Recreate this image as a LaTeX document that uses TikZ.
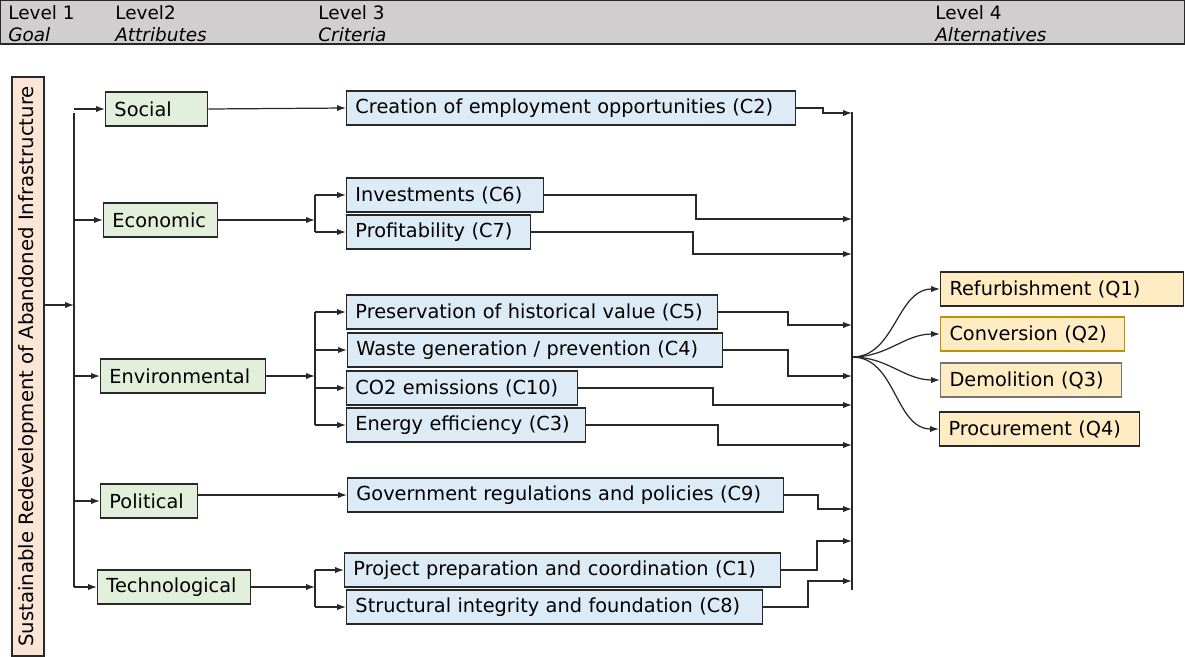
\documentclass[tikz,border=0pt]{standalone}
\usepackage{fontspec}
\setmainfont{DejaVu Sans}
\usepackage{xcolor}
\definecolor{hdgray}{RGB}{208,206,206}
\definecolor{goalpeach}{RGB}{251,229,214}
\definecolor{attrgreen}{RGB}{226,239,218}
\definecolor{critblue}{RGB}{221,235,247}
\definecolor{altsand}{RGB}{255,236,194}
\definecolor{altgold}{RGB}{191,144,0}
\definecolor{edge}{RGB}{40,40,40}
\usetikzlibrary{arrows.meta, positioning}

\tikzset{
  box/.style={draw=edge, line width=0.8pt, minimum height=0.68cm, inner xsep=5pt,
              anchor=west, align=left, font=\fontsize{11}{13}\selectfont},
  % box width given in the picture's own units
  bw/.style={text width={#1*0.5690pt-10pt}},
  attr/.style={box, fill=attrgreen},
  crit/.style={box, fill=critblue},
  alt/.style={box, fill=altsand},
  lbl/.style={anchor=north west, align=left, inner sep=0pt,
              font=\fontsize{10.5}{12.5}\selectfont},
  arr/.style={-{Latex[length=5pt,width=3.5pt]}, line width=0.7pt, edge},
  wire/.style={line width=0.7pt, edge}
}

\begin{document}
\begin{tikzpicture}[x=0.02cm, y=-0.02cm]
\useasboundingbox (0,0) rectangle (1185,656);

% Header band
\fill[hdgray] (0,0) rectangle (1185,44);
\draw[edge, line width=0.8pt] (0.5,0.5) rectangle (1184.5,44);
\node[lbl] (h1) at (8,5) {Level 1\\\textit{Goal}};
\node[lbl] (h2) at (115,5) {Level2\\\textit{Attributes}};
\node[lbl] (h3) at (318,5) {Level 3\\\textit{Criteria}};
\node[lbl] (h4) at (935,5) {Level 4\\\textit{Alternatives}};

% Level 1
\node[draw=edge, line width=0.8pt, fill=goalpeach, rotate=90, minimum width=11.58cm,
      minimum height=0.64cm, inner sep=0pt, font=\fontsize{11.2}{13}\selectfont]
      (goal) at (28,366.5) {Sustainable Redevelopment of Abandoned Infrastructure};

% Level 2
\node[attr, bw=102] (social) at (105,109) {Social};
\node[attr, bw=114] (econ)   at (103,220) {Economic};
\node[attr, bw=165] (env)    at (100,376) {Environmental};
\node[attr, bw=97]  (pol)    at (100,501) {Political};
\node[attr, bw=153] (tech)   at (97,587)  {Technological};

% Level 3
\node[crit, bw=449] (c2)  at (346,108) {Creation of employment opportunities (C2)};
\node[crit, bw=197] (c6)  at (346,195) {Investments (C6)};
\node[crit, bw=184] (c7)  at (346,232) {Profitability (C7)};
\node[crit, bw=371] (c5)  at (346,312) {Preservation of historical value (C5)};
\node[crit, bw=375] (c4)  at (347,350) {Waste generation / prevention (C4)};
\node[crit, bw=231] (c10) at (346,388) {CO2 emissions (C10)};
\node[crit, bw=239] (c3)  at (346,425) {Energy efficiency (C3)};
\node[crit, bw=436] (c9)  at (347,495) {Government regulations and policies (C9)};
\node[crit, bw=436] (c1)  at (344,570) {Project preparation and coordination (C1)};
\node[crit, bw=416] (c8)  at (346,607) {Structural integrity and foundation (C8)};

% Level 4
\node[alt, bw=243] (q1) at (940,289) {Refurbishment (Q1)};
\node[alt, bw=184, draw=altgold] (q2) at (940,334) {Conversion (Q2)};
\node[alt, bw=181, draw=black!55] (q3) at (940,380) {Demolition (Q3)};
\node[alt, bw=200] (q4) at (939,429) {Procurement (Q4)};

% Goal to attributes
\coordinate (ttop) at (74,113);
\coordinate (tbot) at (74,587);
\coordinate (tin)  at (74,305);
\draw[wire] (ttop) -- (tbot);
\draw[arr] (goal.south |- tin) -- (tin);
\foreach \a in {social, econ, env, pol, tech}
  \draw[arr] (ttop |- \a.west) -- (\a.west);

% Attributes to criteria
\draw[arr] (social.east) -- (c2.west);
\draw[arr] (pol.east |- c9.west) -- (c9.west);
\coordinate (je) at (315,220);
\coordinate (jv) at (315,376);
\coordinate (jt) at (315,587);
\draw[arr] (econ.east) -- (je);
\draw[arr] (env.east) -- (jv);
\draw[arr] (tech.east) -- (jt);
\draw[wire] (je |- c6.west) -- (je |- c7.west);
\draw[wire] (jv |- c5.west) -- (jv |- c3.west);
\draw[wire] (jt |- c1.west) -- (jt |- c8.west);
\foreach \j/\c in {je/c6, je/c7, jv/c5, jv/c4, jv/c10, jv/c3, jt/c1, jt/c8}
  \draw[arr] (\j |- \c.west) -- (\c.west);

% Criteria into the collector bar
\coordinate (btop) at (852,112);
\coordinate (bbot) at (852,590);
\draw[wire] (btop) -- (bbot);
\foreach \c/\jx/\ey in {c2/823/113, c6/696/219, c7/693/254, c5/788/325, c4/788/376,
                        c10/713/405, c3/718/445, c9/818/509, c1/817/541, c8/808/581}
  \draw[arr] (\c.east) -| (\jx,\ey) -- (btop |- 0,\ey);

% Bar out to the alternatives
\coordinate (hub) at (852,357);
\foreach \q in {q1, q2, q3, q4}
  \draw[arr] (hub) to[out=0, in=180] (\q.west);

\end{tikzpicture}
\end{document}
